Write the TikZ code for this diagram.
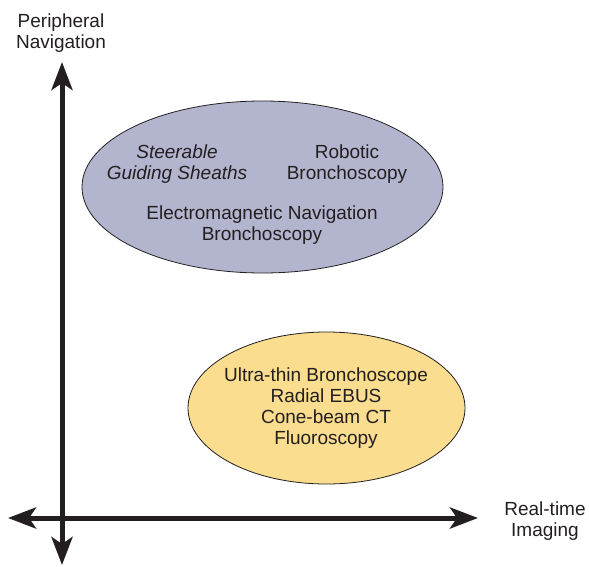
\documentclass[tikz,border=0pt]{standalone}
\usepackage{fontspec}
\setmainfont{Liberation Sans}
\usepackage{tikz}
\usetikzlibrary{arrows.meta}
\definecolor{navpurple}{HTML}{B3B5CF}
\definecolor{imgyellow}{HTML}{FADD8E}
\definecolor{inkblack}{HTML}{231F20}
\tikzset{
  axis/.style={inkblack,line width=5pt,{Stealth[length=28pt,width=21pt,inset=7pt]}-{Stealth[length=28pt,width=21pt,inset=7pt]}},
  label/.style={align=center,text=inkblack,font=\fontsize{19}{21}\selectfont},
}

\begin{document}
\begin{tikzpicture}[x=1pt,y=-1pt]
  \useasboundingbox (0,0) rectangle (589,567);
  % zones
  \filldraw[fill=navpurple,draw=inkblack,line width=0.8pt] (262.5,187) ellipse[x radius=180.5,y radius=86];
  \filldraw[fill=imgyellow,draw=inkblack,line width=0.8pt] (326.5,408) ellipse[x radius=138.5,y radius=76];
  % axes
  \coordinate (ytop) at (62,62);
  \coordinate (ybot) at (62,565);
  \coordinate (xleft) at (8,518);
  \coordinate (xright) at (478,518);
  \draw[axis] (ybot) -- (ytop);
  \draw[axis] (xleft) -- (xright);
  % axis labels
  \node[label] (ylab) at (61,33) {Peripheral\\Navigation};
  \node[label] (xlab) at (545,521) {Real-time\\Imaging};
  % contents
  \node[label,font=\fontsize{19}{21}\selectfont\itshape] (sheath) at (177,164) {Steerable\\Guiding Sheaths};
  \node[label] (robot) at (347,164) {Robotic\\Bronchoscopy};
  \node[label] (emn) at (262,225) {Electromagnetic Navigation\\Bronchoscopy};
  \node[label] (imaging) at (326,408) {Ultra-thin Bronchoscope\\Radial EBUS\\Cone-beam CT\\Fluoroscopy};
\end{tikzpicture}
\end{document}
